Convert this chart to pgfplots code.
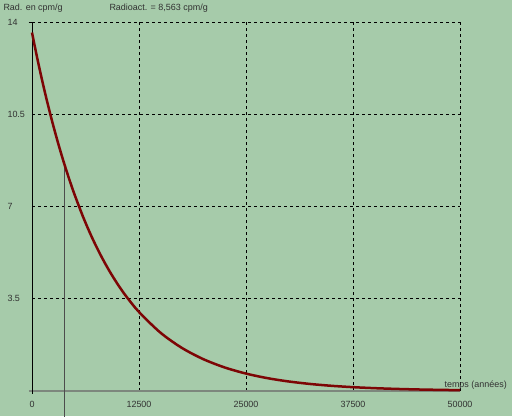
\documentclass[border=0pt]{standalone}
\usepackage{pgfplots}
\pgfplotsset{compat=1.18}
\usepackage{fontspec}
\setmainfont{Liberation Sans}
\definecolor{bg}{RGB}{166,203,170}
\definecolor{curve}{RGB}{125,5,5}
\definecolor{txt}{RGB}{50,50,50}
\definecolor{xaxis}{RGB}{125,135,125}
\begin{document}
\begin{tikzpicture}[x=1bp,y=1bp]
\fill[bg] (0,0) rectangle (512,416);
\begin{axis}[
  at={(32bp,25bp)}, anchor=origin,
  width=428bp, height=369bp, scale only axis,
  xmin=0, xmax=50000, ymin=0, ymax=14,
  clip=false,
  axis line style={draw=none},
  tick style={draw=none},
  xtick={0,12500,25000,37500,50000},
  ytick={3.5,7,10.5,14},
  xticklabels={0,12500,25000,37500,50000},
  yticklabels={3.5,7,10.5,14},
  scaled x ticks=false,
  ticklabel style={font=\fontsize{9}{10}\selectfont, text=txt},
  xticklabel style={yshift=-7bp},
  yticklabel style={anchor=west, xshift=-28bp},
  grid=major,
  major grid style={black, dash pattern=on 3bp off 3bp, line width=0.6bp},
]
% axes
\addplot[xaxis, line width=1.4bp] coordinates {(-400,0) (50000,0)};
\addplot[black, line width=0.8bp] coordinates {(0,-0.1) (0,14)};
\addplot[black, line width=0.8bp] coordinates {(-400,14) (300,14)};
% vertical marker
\addplot[black!70, line width=0.6bp] coordinates {(3824,-0.98) (3824,8.563)};
% decay curve
\addplot[curve, line width=2.5bp, smooth] coordinates {
(0,13.6) (500,12.802) (1000,12.050) (1500,11.343) (2000,10.677) (2500,10.051)
(3000,9.461) (3500,8.905) (4000,8.383) (4500,7.891) (5000,7.428) (6000,6.581)
(7000,5.831) (8000,5.167) (9000,4.578) (10000,4.057) (11000,3.594) (12500,2.998)
(15000,2.215) (17500,1.637) (20000,1.210) (22500,0.894) (25000,0.661)
(27500,0.488) (30000,0.361) (32500,0.267) (35000,0.197) (37500,0.146)
(40000,0.108) (42500,0.080) (45000,0.059) (47500,0.044) (50000,0.032)
};
\end{axis}
\node[anchor=west, text=txt, font=\fontsize{9}{10}\selectfont] at (0,408) {Rad. en cpm/g};
\node[anchor=west, text=txt, font=\fontsize{9}{10}\selectfont] at (106,408) {Radioact. = 8,563 cpm/g};
\node[anchor=west, text=txt, font=\fontsize{9}{10}\selectfont] at (441,31) {temps (années)};
\end{tikzpicture}
\end{document}
